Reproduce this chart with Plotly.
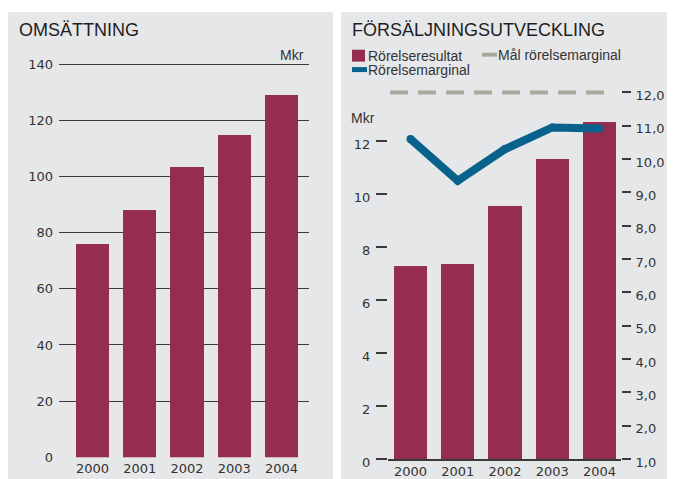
import plotly.graph_objects as go

# ---------------- data ----------------
years = [2000, 2001, 2002, 2003, 2004]
omsattning = [76.2, 88.3, 103.5, 115.2, 129.4]          # Mkr
rorelseresultat = [7.27, 7.35, 9.52, 11.32, 12.71]      # Mkr
rorelsemarginal = [10.6, 9.35, 10.3, 10.95, 10.92]      # %
mal_rorelsemarginal = 12.0                              # %
left_ticks = [0, 20, 40, 60, 80, 100, 120, 140]
right_left_ticks = [0, 2, 4, 6, 8, 10, 12]
right_right_ticks = [1, 2, 3, 4, 5, 6, 7, 8, 9, 10, 11, 12]
right_right_text = [f"{v},0" for v in right_right_ticks]
titles = ["OMSÄTTNING", "FÖRSÄLJNINGSUTVECKLING"]
legend_labels = ["Rörelseresultat", "Mål rörelsemarginal", "Rörelsemarginal"]
unit_label = "Mkr"

# ---------------- style ----------------
W, H = 673, 479          # reference frame used for placement fractions
FIG_H = 490              # layout height that fills the photographed view
BAR = "#952d4f"
BLUE = "#08628c"
GOAL = "#a9a89c"
PANEL = "#e6e7e9"
AX = "#3a3a3a"
TXT = "#333333"
TICKFONT = dict(family="DejaVu Sans", size=13, color=TXT)
TEXTFONT = "Liberation Sans, Arial, sans-serif"


def px(x):
    return x / W


def py(y):
    return 1 - y / H


fig = go.Figure()

fig.add_trace(go.Bar(x=years, y=omsattning, marker=dict(color=BAR, line=dict(width=0)),
                     width=0.70, xaxis="x", yaxis="y", showlegend=False))
fig.add_trace(go.Bar(x=years, y=rorelseresultat, marker=dict(color=BAR, line=dict(width=0)),
                     width=0.70, xaxis="x2", yaxis="y2", showlegend=False))
fig.add_trace(go.Scatter(x=years, y=rorelsemarginal, mode="lines+markers",
                         line=dict(color=BLUE, width=8),
                         marker=dict(color=BLUE, size=8, line=dict(width=0)),
                         xaxis="x2", yaxis="y3", showlegend=False))

shapes = [
    dict(type="rect", xref="paper", yref="paper", x0=px(8), x1=px(333), y0=0, y1=py(9),
         fillcolor=PANEL, line=dict(width=0), layer="below"),
    dict(type="rect", xref="paper", yref="paper", x0=px(341), x1=px(667), y0=0, y1=py(9),
         fillcolor=PANEL, line=dict(width=0), layer="below"),
    # goal line
    dict(type="line", xref="x2 domain", yref="y3", x0=0.009, x1=0.94,
         y0=mal_rorelsemarginal, y1=mal_rorelsemarginal,
         line=dict(color=GOAL, width=4, dash="18px,10px")),
    # legend swatches
    dict(type="rect", xref="paper", yref="paper", x0=px(352), x1=px(365), y0=py(59), y1=py(47),
         fillcolor=BAR, line=dict(width=0)),
    dict(type="rect", xref="paper", yref="paper", x0=px(482), x1=px(497), y0=py(54), y1=py(50),
         fillcolor=GOAL, line=dict(width=0)),
    dict(type="rect", xref="paper", yref="paper", x0=px(352), x1=px(367), y0=py(69.5), y1=py(64.5),
         fillcolor=BLUE, line=dict(width=0)),
]

annotations = [
    dict(text=titles[0], x=px(17), y=py(27), xref="paper", yref="paper", xanchor="left",
         yanchor="middle", showarrow=False, font=dict(family=TEXTFONT, size=18, color="#1e1e1e")),
    dict(text=titles[1], x=px(350), y=py(27), xref="paper", yref="paper", xanchor="left",
         yanchor="middle", showarrow=False, font=dict(family=TEXTFONT, size=18, color="#1e1e1e")),
    dict(text=unit_label, x=px(306), y=py(52), xref="paper", yref="paper", xanchor="right",
         yanchor="middle", showarrow=False, font=dict(family=TEXTFONT, size=14, color=TXT)),
    dict(text=unit_label, x=px(349), y=py(116), xref="paper", yref="paper", xanchor="left",
         yanchor="middle", showarrow=False, font=dict(family=TEXTFONT, size=14, color=TXT)),
    dict(text=legend_labels[0], x=px(366), y=py(53), xref="paper", yref="paper", xanchor="left",
         yanchor="middle", showarrow=False, font=dict(family=TEXTFONT, size=14, color=TXT)),
    dict(text=legend_labels[1], x=px(496), y=py(52), xref="paper", yref="paper", xanchor="left",
         yanchor="middle", showarrow=False, font=dict(family=TEXTFONT, size=14, color=TXT)),
    dict(text=legend_labels[2], x=px(366), y=py(67), xref="paper", yref="paper", xanchor="left",
         yanchor="middle", showarrow=False, font=dict(family=TEXTFONT, size=14, color=TXT)),
]

fig.update_layout(
    width=W, height=FIG_H, autosize=False,
    margin=dict(l=0, r=0, t=0, b=0),
    paper_bgcolor="white", plot_bgcolor="rgba(0,0,0,0)",
    showlegend=False, bargap=0,
    shapes=shapes, annotations=annotations,
    xaxis=dict(domain=[px(59), px(309)], range=[2000 - 0.709, 2004 + 0.582], anchor="y",
               tickvals=years, ticktext=[str(y) for y in years], showgrid=False, zeroline=False,
               showline=False, ticks="", tickfont=TICKFONT, ticklabelstandoff=2, fixedrange=True),
    yaxis=dict(domain=[py(457), py(58)], range=[0, 399 / (395 / 140)], anchor="x",
               tickvals=left_ticks, showgrid=True, gridcolor=AX, gridwidth=1.3,
               zeroline=False, showline=False, ticks="", tickfont=TICKFONT,
               ticklabelstandoff=5, fixedrange=True),
    xaxis2=dict(domain=[px(388), px(621)], range=[2000 - 0.476, 2004 + 0.455], anchor="y2",
                tickvals=years, ticktext=[str(y) for y in years], showgrid=False, zeroline=False,
                showline=True, linecolor=AX, linewidth=1.5, ticks="", tickfont=TICKFONT,
                ticklabelstandoff=0, fixedrange=True),
    yaxis2=dict(domain=[py(459), py(85)], range=[0, 374 / (320 / 12)], anchor="x2",
                tickvals=right_left_ticks, showgrid=False, zeroline=False, showline=False,
                ticks="outside", ticklen=11, tickwidth=1.5, tickcolor=AX,
                tickfont=TICKFONT, ticklabelshift=3, ticklabelstandoff=3, fixedrange=True),
    yaxis3=dict(overlaying="y2", side="right", anchor="x2",
                range=[1, 1 + 374 / (369 / 11)], tickvals=right_right_ticks,
                ticktext=right_right_text, showgrid=False, zeroline=False, showline=False,
                ticks="outside", ticklen=9, tickwidth=1.5, tickcolor=AX,
                tickfont=TICKFONT, ticklabelshift=3, ticklabelstandoff=2, fixedrange=True),
)

fig.write_html(
    "out.html",
    config={"displayModeBar": False},
    post_script="document.body.style.margin='0';document.body.style.overflow='hidden';",
)
